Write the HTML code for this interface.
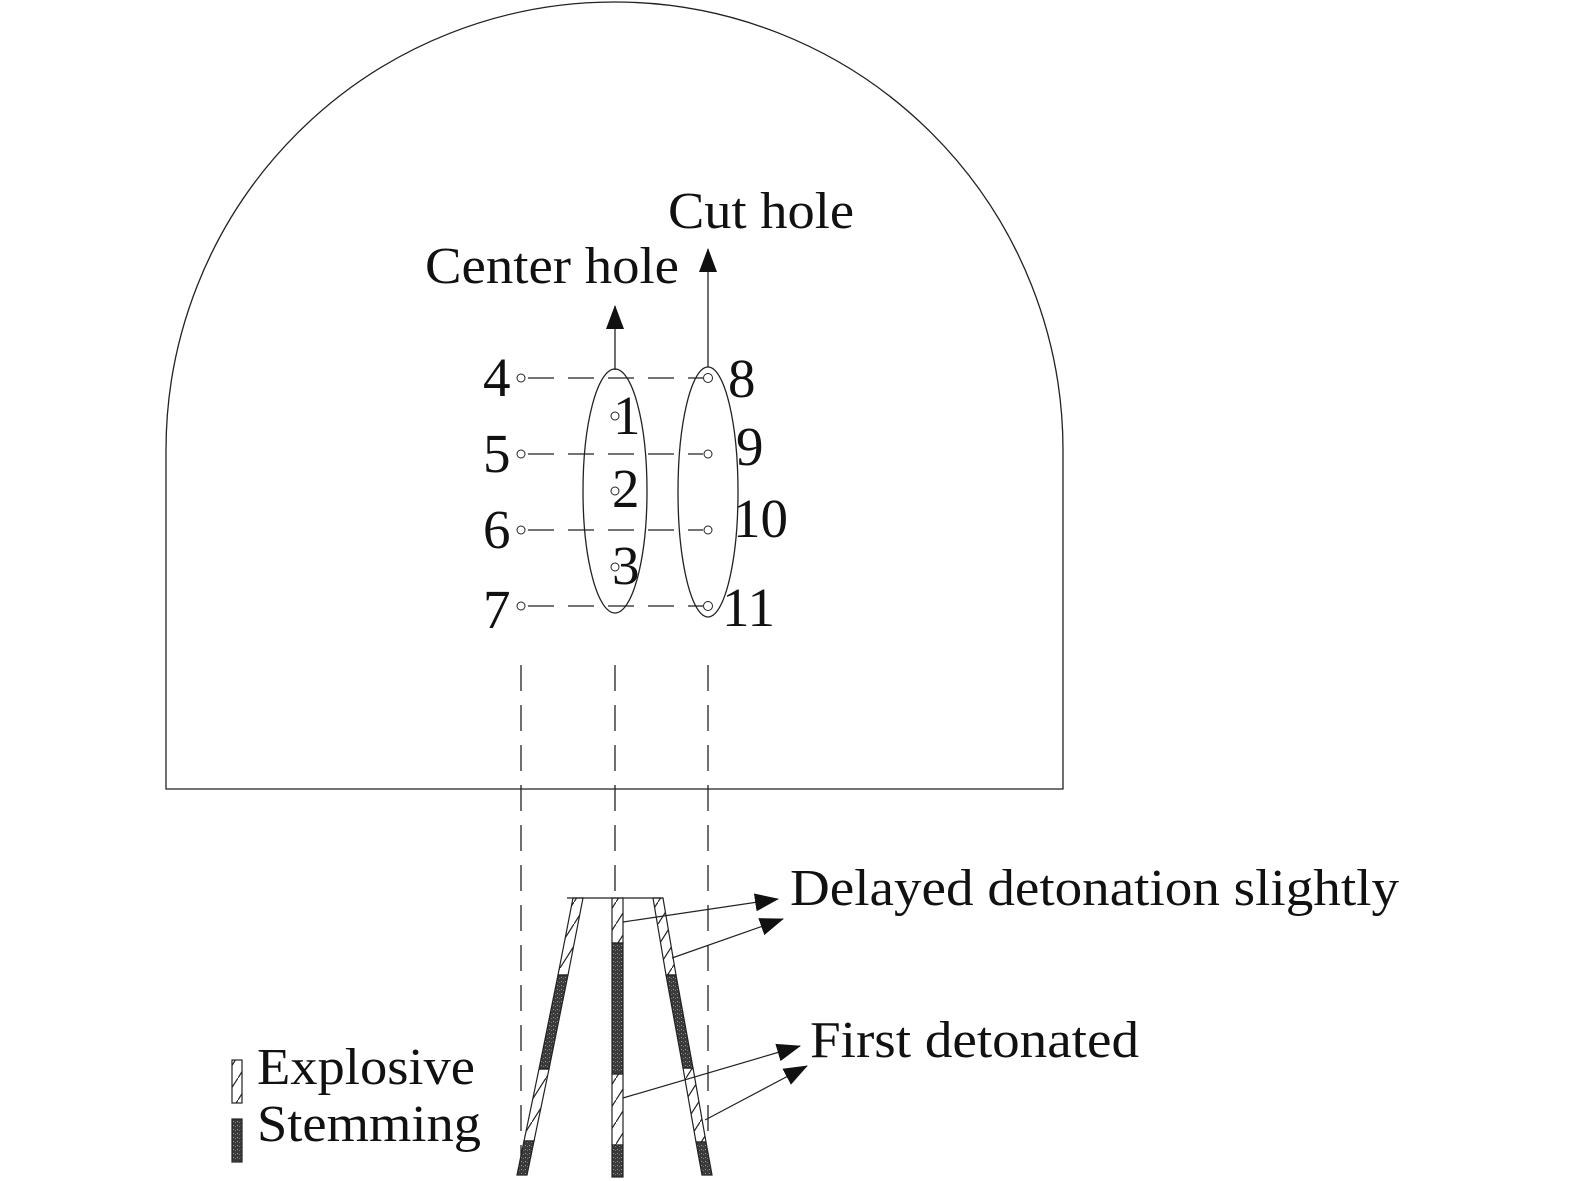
<!DOCTYPE html>
<html><head><style>html,body{margin:0;padding:0;background:#fff}svg{display:block}</style></head><body>
<svg width="1575" height="1181" viewBox="0 0 1575 1181" xmlns="http://www.w3.org/2000/svg" font-family="'Liberation Serif', serif" fill="#111">
<defs>
<pattern id="h" width="14" height="22" patternUnits="userSpaceOnUse"><path d="M0,22 L14,0" stroke="#222" stroke-width="1.2"/></pattern>
<pattern id="s" width="4" height="4" patternUnits="userSpaceOnUse"><rect width="4" height="4" fill="#3a3a3a"/><rect x="1" y="1" width="1" height="1" fill="#999"/><rect x="3" y="2" width="1" height="1" fill="#777"/></pattern>
<marker id="b" markerWidth="24" markerHeight="18" refX="23" refY="9" orient="auto" markerUnits="userSpaceOnUse"><path d="M0,0 L24,9 L0,18Z" fill="#111"/></marker>
</defs>
<g fill="none" stroke="#222" stroke-width="1.3">
<path d="M166,450 A448.5,448 0 0 1 1063,450 L1063,789 L166,789 Z"/>
<ellipse cx="615" cy="491" rx="32" ry="122"/>
<ellipse cx="708" cy="492" rx="30" ry="125"/>
<g stroke-dasharray="26,14">
<line x1="528" y1="378" x2="703" y2="378"/>
<line x1="528" y1="454" x2="703" y2="454"/>
<line x1="528" y1="530" x2="703" y2="530"/>
<line x1="528" y1="606" x2="703" y2="606"/>
<line x1="521" y1="665" x2="521" y2="1175"/>
<line x1="615" y1="665" x2="615" y2="900"/>
<line x1="708" y1="665" x2="708" y2="1140"/>
</g>
<g fill="#fff" stroke-width="1">
<circle cx="521" cy="378" r="4"/><circle cx="521" cy="454" r="4"/><circle cx="521" cy="530" r="4"/><circle cx="521" cy="606" r="4"/>
<circle cx="708" cy="378" r="4.5"/><circle cx="708" cy="454" r="4"/><circle cx="708" cy="530" r="4"/><circle cx="708" cy="606" r="4.5"/>
<circle cx="615" cy="416" r="4"/><circle cx="615" cy="491" r="4"/><circle cx="615" cy="567" r="4"/>
</g>
<line x1="615" y1="370" x2="615" y2="306" marker-end="url(#b)"/>
<line x1="708" y1="367" x2="708" y2="249" marker-end="url(#b)"/>
<line x1="567" y1="898" x2="663" y2="898"/>
</g>
<g stroke="#222" stroke-width="1.2">
<polygon points="573,898 583,898 568,975 558,975" fill="url(#h)"/>
<polygon points="558,975 568,975 549,1069 539,1069" fill="url(#s)"/>
<polygon points="539,1069 549,1069 534,1141 524,1141" fill="url(#h)"/>
<polygon points="524,1141 534,1141 527,1175 517,1175" fill="url(#s)"/>
<rect x="612" y="898" width="11" height="45" fill="url(#h)"/>
<rect x="612" y="943" width="11" height="131" fill="url(#s)"/>
<rect x="612" y="1074" width="11" height="71" fill="url(#h)"/>
<rect x="612" y="1145" width="11" height="32" fill="url(#s)"/>
<polygon points="653,898 663,898 676,975 666,975" fill="url(#h)"/>
<polygon points="666,975 676,975 693,1068 683,1068" fill="url(#s)"/>
<polygon points="683,1068 693,1068 706,1142 696,1142" fill="url(#h)"/>
<polygon points="696,1142 706,1142 712,1175 702,1175" fill="url(#s)"/>
<rect x="232" y="1060" width="10" height="43" fill="url(#h)"/>
<rect x="232" y="1119" width="10" height="43" fill="url(#s)"/>
</g>
<g stroke="#222" stroke-width="1.2" fill="none">
<line x1="623" y1="922" x2="778" y2="899" marker-end="url(#b)"/>
<line x1="672" y1="958" x2="783" y2="919" marker-end="url(#b)"/>
<line x1="623" y1="1098" x2="800" y2="1046" marker-end="url(#b)"/>
<line x1="705" y1="1120" x2="807" y2="1066" marker-end="url(#b)"/>
</g>
<g font-size="52">
<text x="425" y="283" textLength="254" lengthAdjust="spacingAndGlyphs">Center hole</text>
<text x="668" y="228" textLength="186" lengthAdjust="spacingAndGlyphs">Cut hole</text>
<text x="790" y="905" textLength="609" lengthAdjust="spacingAndGlyphs">Delayed detonation slightly</text>
<text x="810" y="1057" textLength="329" lengthAdjust="spacingAndGlyphs">First detonated</text>
<text x="257" y="1084" textLength="218" lengthAdjust="spacingAndGlyphs">Explosive</text>
<text x="257" y="1141" textLength="224" lengthAdjust="spacingAndGlyphs">Stemming</text>
</g>
<g font-size="55">
<text x="483" y="396">4</text>
<text x="483" y="472">5</text>
<text x="483" y="548">6</text>
<text x="483" y="628">7</text>
<text x="613" y="434">1</text>
<text x="612" y="507">2</text>
<text x="612" y="584">3</text>
<text x="728" y="397">8</text>
<text x="736" y="465">9</text>
<text x="733" y="537">10</text>
<text x="722" y="626">11</text>
</g>
</svg>
</body></html>
